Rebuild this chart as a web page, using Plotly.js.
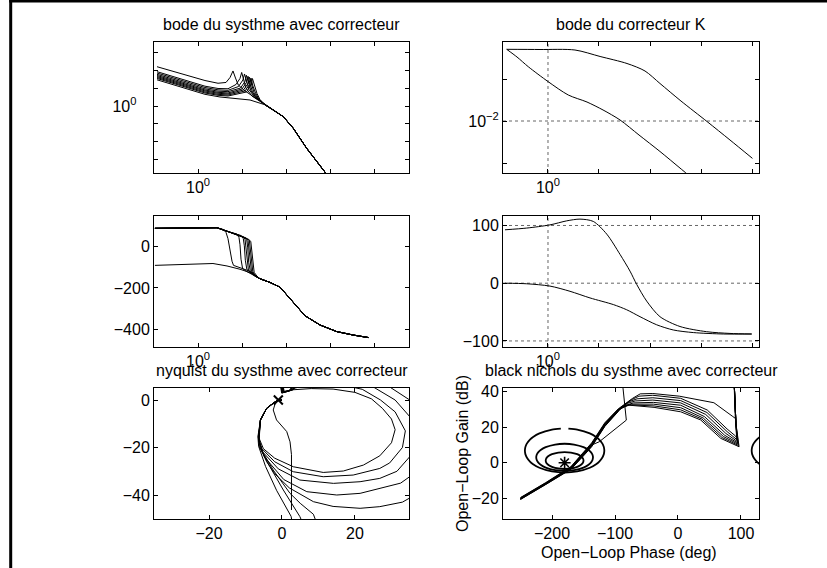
<!DOCTYPE html>
<html><head><meta charset="utf-8">
<script src="https://cdn.plot.ly/plotly-3.0.1.min.js"></script>
<style>html,body{margin:0;padding:0;background:#fff;}#chart{width:827px;height:568px;}</style>
</head><body><div id="chart"></div>
<script>
// ---------- bode du systhme avec correcteur : magnitude (dB) ----------
const sysMagFreq = [
 [0.117,0.507,1.44,2.85,4.33,5.34,6.24,7.11,8.24,11.7,19.7,33.3],
 [0.117,0.507,1.44,2.85,4.80,7.30,9.00,9.83,10.9,12.3,16.8,33.3],
 [0.117,0.507,1.44,2.85,4.80,8.32,10.5,11.4,12.6,14.4,19.2,33.3],
 [0.117,0.507,1.44,2.85,4.80,9.24,11.7,12.6,14.1,16.0,20.8,33.3],
 [0.117,0.507,1.44,2.85,4.80,10.0,12.6,13.7,15.2,17.3,21.9,33.3],
 [0.117,0.507,1.44,2.85,4.80,10.8,13.7,14.8,16.4,18.7,23.1,33.3],
 [0.117,0.507,1.44,2.85,4.80,11.7,14.8,16.0,17.7,20.3,24.3,33.3],
 [0.117,0.507,1.44,2.85,4.80,12.6,16.0,17.3,19.2,21.9,25.6,33.3],
 [0.117,0.507,1.44,3.16,6.93,15.2,33.3]
];
const sysMagDb = [
 [44.4,35.4,28.8,25.7,26.6,32.2,39.6,31.6,23.7,17.0,9.6,1.4],
 [38.8,29.2,22.4,19.8,19.5,24.3,31.1,37.9,29.4,20.3,11.3,1.4],
 [37.3,27.7,20.9,18.3,17.7,22.0,29.4,36.2,27.7,18.6,10.2,1.4],
 [35.8,26.2,19.4,16.8,16.2,20.3,27.7,34.7,26.0,17.0,9.6,1.4],
 [34.5,24.9,18.1,15.5,14.7,19.2,26.6,33.6,24.9,15.8,9.0,1.4],
 [33.3,23.7,17.0,14.4,13.6,18.1,25.4,32.5,23.7,15.3,8.5,1.4],
 [32.2,22.6,15.8,13.2,12.4,17.0,24.3,31.6,22.6,14.7,7.9,1.4],
 [31.1,21.5,14.7,12.1,11.3,15.8,23.7,31.0,22.0,14.1,7.3,1.4],
 [29.6,19.8,13.2,10.2,8.5,6.8,1.4]
];
const sysMagTailFreq = [51.4,86.9,146.5,295,705,7420];
const sysMagTailDb = [-4.5,-12.1,-25.2,-47.8,-72.3,-138];

// ---------- bode du systhme avec correcteur : phase (deg) ----------
const sysPhaseFreq = [
 [0.105,0.658,2.70,3.70,4.33,4.80,5.34,5.93,6.41,9.84,15.2,20.8,25.6],
 [0.105,0.658,2.70,4.56,7.70,8.55,9.01,9.49,10.3,12.3,17.8,25.6],
 [0.105,0.658,2.70,4.56,9.49,10.7,11.3,11.9,12.9,15.2,18.7,25.6],
 [0.105,0.658,2.70,4.56,10.5,11.7,12.3,13.0,14.0,16.0,19.2,25.6],
 [0.105,0.658,2.70,4.56,11.5,12.8,13.5,14.2,15.4,17.3,19.7,25.6],
 [0.105,0.658,2.70,4.56,12.3,13.7,14.4,15.2,16.4,18.2,20.8,25.6],
 [0.105,0.658,2.70,4.56,13.2,14.7,15.4,16.3,17.6,19.2,21.9,25.6],
 [0.105,0.658,2.70,4.56,14.2,15.8,16.6,17.5,18.9,20.8,23.1,25.6],
 [0.105,0.769,2.19,4.56,9.01,17.8,25.6]
];
const sysPhaseDeg = [
 [90,92,93,85,70,40,-20,-70,-90,-106,-119,-145,-155],
 [90,92,93,76,62,45,10,-60,-105,-118,-137,-155],
 [90,92,93,76,55,40,5,-65,-110,-122,-139,-155],
 [90,92,93,76,50,38,0,-70,-113,-125,-140,-155],
 [90,92,93,76,46,35,-5,-75,-116,-128,-141,-155],
 [90,92,93,76,43,32,-10,-80,-118,-130,-143,-155],
 [90,92,93,76,40,30,-12,-85,-121,-133,-146,-155],
 [90,92,93,76,36,27,-15,-90,-124,-136,-149,-155],
 [-90,-85,-81,-93,-109,-130,-155]
];
const sysPhaseTailFreq = [43.3,73.1,146.6,270,593,1420,3390,7420];
const sysPhaseTailDeg = [-173,-196,-270,-335,-380,-412,-429,-441];

// ---------- bode du correcteur K ----------
const kMagFreqA = [0.155,0.697,3.38,10.5,35.4,79.8,157,405,1310,3700,10200];
const kMagA = [0.509,0.504,0.490,0.344,0.234,0.155,0.0782,0.0299,0.00973,0.00353,0.00129];
const kMagFreqB = [0.155,0.247,0.411,1.01,2.50,5.82,12.0,25.8,60.9,157,419,10200];
const kMagB = [0.509,0.334,0.196,0.0863,0.0416,0.0283,0.0183,0.0106,0.00464,0.00188,0.0007,0.0000283];
const kPhaseFreqA = [0.1435,0.382,1.094,2.33,4.24,7.73,14.2,25.8,40.5,54.8,86.1,157,387,1290,3700,9860];
const kPhaseA = [92.5,95.5,101,108,111,107,85,50,21,-2,-31,-58,-75,-84,-87,-88];
const kPhaseFreqB = [0.1435,0.382,1.094,2.70,6.66,19.1,34.9,63.7,135,286,706,2740,9860];
const kPhaseB = [0,-1,-5,-14,-25.5,-37,-46,-58,-72,-81,-85.5,-88,-88];

// ---------- nyquist du systhme avec correcteur ----------
const nyqRe = [
 [-0.5,-0.4,-0.1,1.8,5,30,80,50,5,2.5,-1.5,-4.5,-6.4,-6.6],
 [-0.4,-0.3,0.0,2.0,5,30,70,40,8,4.9,0.37,-3.3,-6.2,-6.5],
 [-0.3,-0.2,0.1,2.2,5.5,32,65,40,11,8.6,5,2.2,-2.4,-5.6,-6.4],
 [-0.2,-0.1,0.2,2.4,5,12,22,32,40,46,46,41,33,26.8,21.4,14,8.6,2,-2,-4.2,-6.0,-6.4],
 [-0.1,0,0.3,2.6,4.5,11,20,28,35,40,41,38,32.5,26.8,21.4,15,6.8,0.5,-4.8,-6.3],
 [0,0.1,0.4,2.8,4,10,18,25,31,35,37,35.5,31.5,26.8,21.4,14.1,4.9,-1,-5.2,-6.4],
 [0.1,0.2,0.5,3.0,3.5,9,16,22,27,31,33.8,33,29.5,26.8,19.5,11.3,3.1,-2,-5.5,-6.4],
 [0.2,0.3,0.6,3,8,14,20,24.5,27.5,30,31,30,26.8,22.3,16.8,11.3,3.1,-2,-5.1,-6.3]
];
const nyqIm = [
 [40,6,2.9,3.7,10,35,0,-80,-70,-49,-38,-28,-19.5,-15.4],
 [40,6,3.0,3.8,9,30,0,-70,-60,-49.1,-37.9,-28.1,-19.7,-15.4],
 [40,6,3.1,3.9,9,28,-5,-65,-58,-48.1,-43.5,-39.3,-29.5,-21.1,-15.4],
 [40,6,3.2,4.0,7.5,13,14,9,0,-12,-25,-36,-43,-44.9,-45.6,-44.8,-42.8,-37,-31,-26,-20,-15.4],
 [40,6,3.3,4.1,6.5,10.5,11,7,0,-10,-20,-29,-35,-37.2,-39.3,-40,-38.6,-33.5,-24,-17.5],
 [40,6,3.4,4.2,5.8,8.5,8.5,5.5,0,-7,-15,-23,-30,-33,-34.4,-35.1,-33.7,-29,-22,-17],
 [40,6,3.5,4.3,5,7,6.5,4.5,0,-5,-13,-20,-26.5,-28.8,-31.6,-32.3,-30.2,-26,-20.5,-16.5],
 [40,6,3.6,4.3,4.8,4.6,3.2,0.5,-3.5,-8,-12.5,-18,-23.5,-27.4,-29.9,-30.5,-28.1,-24.5,-20.5,-16]
];
const nyqEndRe = [-5.9,-4.2,-2.3,-1.0,-0.4,0];
const nyqEndIm = [-8.4,-3.5,-1.2,0,-0.1,0];
const nyqLowRe = [2.6,2.6,2.2,1.3,-1.5,-2.4,-1.8,-0.9,0];
const nyqLowIm = [-46.3,-23,-17.6,-13.3,-8.4,-4.2,-1.2,-0.3,0];
const critRe = [-1], critIm = [0];

// ---------- black nichols du systhme avec correcteur ----------
const nicPhase = [
 [88,89,90,91,86,57,2,-40,-60,-72],
 [88,90,92,93,91.5,78,46.5,4.3,-40,-62,-74],
 [88,90,92,93.5,78,46,4.3,-40,-65,-77],
 [88,90,92,94,76,44,4.3,-40,-68,-80],
 [88,90,92,94.5,74,42,4.3,-39,-71,-84],
 [88,90,92,95,72,40,4.3,-39,-74,-88],
 [88,90,92,96,70,38,4.3,-38,-77,-91],
 [88,90,92,97,68,36,4.3,-38,-80.5,-93]
];
const nicGain = [
 [55,40,30,25,26.3,33.8,37.5,39,38.8,36.3],
 [55,35,22,14,15,19,29.7,36.3,38,37.5,35.5],
 [55,35,22,13,17.5,28.3,35,36.6,36,34.5],
 [55,35,22,12,16.5,27.2,33.7,35.3,34.8,33.5],
 [55,35,22,11.2,15.5,26,32.4,34,33.7,32.2],
 [55,35,22,10.5,14.8,25.2,31,33,33,31.3],
 [55,35,22,9.7,14.2,24.6,29.8,32,32.6,30.5],
 [55,35,22,9,13.7,24.1,28.7,31.2,32.5,30]
];
const nicTailPhase = [-95,-116,-137,-155,-170,-210,-250];
const nicTailGain = [
 [30.3,22.6,11.2,4.0,-2.2,-11.2,-19.6],
 [30.0,22.2,10.8,3.7,-2.5,-11.4,-19.8],
 [29.8,21.9,10.5,3.4,-2.7,-11.6,-20.0],
 [29.6,21.6,10.2,3.1,-2.9,-11.7,-20.1],
 [29.4,21.3,9.9,2.8,-3.1,-11.9,-20.3],
 [29.2,21.0,9.6,2.5,-3.3,-12.0,-20.4],
 [29.0,20.8,9.3,2.2,-3.5,-12.2,-20.6],
 [28.8,20.5,9.0,1.9,-3.7,-12.3,-20.7]
];
const nicLowPhase = [-88,-87.3,-82,-114.8,-125,-137,-155,-170,-210,-250];
const nicLowGain = [55,42,24,14.6,11.8,10,3,-3,-11.8,-20.2];
// closed-loop contours 1 dB, 3 dB, 6 dB (phase deg, gain dB)
const m1Phase = [-174,-160,-140,-130,-125,-120,-118,-117.5,-116.96,-117.5,-118,-120,-125,-130,-140,-160,-180,-200,-220,-230,-235,-240,-242,-242.5,-243.04,-242.5,-242,-240,-235,-230,-220,-200,-186];
const m1Gain = [19.22,18.66,16.56,14.55,13.06,10.77,9.17,8.53,6.87,5.21,4.57,2.97,0.68,-0.82,-2.82,-4.92,-5.54,-4.92,-2.82,-0.82,0.68,2.97,4.57,5.21,6.87,8.53,9.17,10.77,13.06,14.55,16.56,18.66,19.22];
const m1bPhase = [160,140,130,125,120,118,117.5,116.96,117.5,118,120,125,130,140,160];
const m1bGain = [18.66,16.56,14.55,13.06,10.77,9.17,8.53,6.87,5.21,4.57,2.97,0.68,-0.82,-2.82,-4.92];
const m3Phase = [-180,-165,-150,-142,-138,-136,-135.5,-134.93,-135.5,-136,-138,-142,-150,-165,-180,-195,-210,-218,-222,-224,-224.5,-225.07,-224.5,-224,-222,-218,-210,-195,-180];
const m3Gain = [10.69,10.26,8.76,7.16,5.82,4.69,4.24,3.02,1.80,1.36,0.22,-1.12,-2.72,-4.22,-4.65,-4.22,-2.72,-1.12,0.22,1.36,1.80,3.02,4.24,4.69,5.82,7.16,8.76,10.26,10.69];
const m6Phase = [-180,-170,-160,-155,-152,-150.5,-150,-150.5,-152,-155,-160,-170,-180,-190,-200,-205,-208,-209.5,-210,-209.5,-208,-205,-200,-190,-180];
const m6Gain = [6.02,5.75,4.81,3.89,2.97,2.12,1.25,0.38,-0.47,-1.39,-2.31,-3.25,-3.52,-3.25,-2.31,-1.39,-0.47,0.38,1.25,2.12,2.97,3.89,4.81,5.75,6.02];
const critPhase = [-180], critGain = [0];

// ---------- ticks & texts ----------
const NB = '\u00a0';
const sysFreqTicks = [0.1,1,10,100,1000,10000];
const sysFreqTickText = ['','10<sup>0</sup>','','','',''];
const sysMagTicks = [0.001,0.01,0.1,1,10,100,1000];
const sysMagTickText = ['','','','10<sup>0</sup>' + NB+NB+NB,'','',''];
const kFreqTicks = [1,10,100,1000,10000];
const kFreqTickText = ['10<sup>0</sup>','','','',''];
const kMagTicks = [0.001,0.01,0.1];
const kMagTickText = ['','10<sup>\u22122</sup>',''];
const kFreqGrid = [1];
const kMagGrid = [0.01];
const kPhaseGrid = [-100,0,100];
const titles = ['bode du systhme avec correcteur','bode du correcteur K','nyquist du systhme avec correcteur','black nichols du systhme avec correcteur'];

// ---------- build ----------
const W = 827, H = 568;
const FONT = '"Liberation Sans", Arial, Helvetica, sans-serif';
const dbToAbs = d => Math.pow(10, d/20);
const line = {color:'#000', width:1};
const smooth = {color:'#000', width:1, shape:'spline', smoothing:0.8};
const traces = [];
function addLine(x, y, xa, ya, extra) {
  traces.push(Object.assign({type:'scatter', mode:'lines', x:x, y:y, xaxis:xa, yaxis:ya,
    line:line, hoverinfo:'skip', showlegend:false}, extra||{}));
}
sysMagFreq.forEach((f,i) => addLine(f.concat(sysMagTailFreq), sysMagDb[i].concat(sysMagTailDb).map(dbToAbs), 'x', 'y'));
addLine(kMagFreqA, kMagA, 'x2', 'y2', {line:smooth});
addLine(kMagFreqB, kMagB, 'x2', 'y2', {line:smooth});
sysPhaseFreq.forEach((f,i) => addLine(f.concat(sysPhaseTailFreq), sysPhaseDeg[i].concat(sysPhaseTailDeg), 'x3', 'y3'));
addLine(kPhaseFreqA, kPhaseA, 'x4', 'y4', {line:smooth});
addLine(kPhaseFreqB, kPhaseB, 'x4', 'y4', {line:smooth});
nyqRe.forEach((r,i) => addLine(r.concat(nyqEndRe), nyqIm[i].concat(nyqEndIm), 'x5', 'y5'));
addLine(nyqLowRe, nyqLowIm, 'x5', 'y5');
traces.push({type:'scatter', mode:'markers', x:critRe, y:critIm, xaxis:'x5', yaxis:'y5', hoverinfo:'skip', showlegend:false,
  marker:{symbol:'x-thin-open', size:9, color:'#000', line:{color:'#000', width:2}}});
const gridLine = {color:'#000', width:1.8, shape:'spline', smoothing:0.6};
addLine(m1Phase, m1Gain, 'x6', 'y6', {line:gridLine});
addLine(m1bPhase, m1bGain, 'x6', 'y6', {line:gridLine});
addLine(m3Phase, m3Gain, 'x6', 'y6', {line:gridLine});
addLine(m6Phase, m6Gain, 'x6', 'y6', {line:gridLine});
nicPhase.forEach((p,i) => addLine(p.concat(nicTailPhase), nicGain[i].concat(nicTailGain[i]), 'x6', 'y6'));
addLine(nicLowPhase, nicLowGain, 'x6', 'y6');
traces.push({type:'scatter', mode:'markers', x:critPhase, y:critGain, xaxis:'x6', yaxis:'y6', hoverinfo:'skip', showlegend:false,
  marker:{symbol:'asterisk-open', size:10, color:'#000', line:{color:'#000', width:1.6}}});

const colL = [154/W, 409/W], colR = [503/W, 759/W];
const row = (top, bot) => [1 - bot/H, 1 - top/H];
const r1 = row(42,173), r2 = row(216,347), r3 = row(388,519);
const tickfont = {family:FONT, size:16, color:'#000'};
function ax(domain, anchor, opts) {
  return Object.assign({domain:domain, anchor:anchor, showline:true, linecolor:'#000', linewidth:1,
    mirror:'ticks', ticks:'inside', ticklen:4, tickcolor:'#000', tickwidth:1, showgrid:false,
    zeroline:false, tickfont:tickfont, fixedrange:true, tickmode:'array'}, opts);
}
const layout = {
  width:W, height:H, margin:{l:0,r:0,t:0,b:0,pad:0}, paper_bgcolor:'#fff', plot_bgcolor:'#fff',
  showlegend:false, font:{family:FONT, size:16, color:'#000'},
  xaxis:  ax(colL,'y',  {type:'log', range:[-1.0,4.795], tickvals:sysFreqTicks, ticktext:sysFreqTickText}),
  yaxis:  ax(r1,'x',    {type:'log', range:[-3.785,3.616], tickvals:sysMagTicks, ticktext:sysMagTickText}),
  xaxis2: ax(colR,'y2', {type:'log', range:[-0.882,4.137], tickvals:kFreqTicks, ticktext:kFreqTickText}),
  yaxis2: ax(r1,'x2',   {type:'log', range:[-3.238,-0.119], tickvals:kMagTicks, ticktext:kMagTickText}),
  xaxis3: ax(colL,'y3', {type:'log', range:[-1.0,4.795], tickvals:sysFreqTicks, ticktext:sysFreqTickText}),
  yaxis3: ax(r2,'x3',   {range:[-487,150], tickvals:[-400,-200,0]}),
  xaxis4: ax(colR,'y4', {type:'log', range:[-0.882,4.137], tickvals:kFreqTicks, ticktext:kFreqTickText}),
  yaxis4: ax(r2,'x4',   {range:[-110.5,116.4], tickvals:[-100,0,100]}),
  xaxis5: ax(colL,'y5', {range:[-35.07,34.8], tickvals:[-20,0,20]}),
  yaxis5: ax(r3,'x5',   {range:[-50.1,5.05], tickvals:[-40,-20,0]}),
  xaxis6: ax(colR,'y6', {range:[-277.8,128.6], tickvals:[-200,-100,0,100]}),
  yaxis6: ax(r3,'x6',   {range:[-31.7,42.1], tickvals:[-20,0,20,40]}),
  shapes: [],
  annotations: []
};
const dot = {color:'#666', width:1, dash:'dot'};
kFreqGrid.forEach(v => {
  layout.shapes.push({type:'line', xref:'x2', yref:'y2 domain', x0:v, x1:v, y0:0, y1:1, line:dot, layer:'below'});
  layout.shapes.push({type:'line', xref:'x4', yref:'y4 domain', x0:v, x1:v, y0:0, y1:1, line:dot, layer:'below'});
});
kMagGrid.forEach(v => layout.shapes.push({type:'line', xref:'x2 domain', yref:'y2', x0:0, x1:1, y0:v, y1:v, line:dot, layer:'below'}));
kPhaseGrid.forEach(v => layout.shapes.push({type:'line', xref:'x4 domain', yref:'y4', x0:0, x1:1, y0:v, y1:v, line:dot, layer:'below'}));
// page frame
layout.shapes.push({type:'line', xref:'paper', yref:'paper', x0:10.7/W, x1:10.7/W, y0:0, y1:1, line:{color:'#000', width:3}});
layout.shapes.push({type:'line', xref:'paper', yref:'paper', x0:9.2/W, x1:1, y0:1-1/H, y1:1-1/H, line:{color:'#000', width:3}});

const ann = (text, xpx, ypx, extra) => layout.annotations.push(Object.assign({text:text, xref:'paper', yref:'paper',
  x:xpx/W, y:1-ypx/H, xanchor:'center', yanchor:'middle', showarrow:false, font:{family:FONT, size:16, color:'#000'}}, extra||{}));
ann(titles[0], 281.5, 24.5);
ann(titles[1], 631, 24.5);
ann(titles[2], 281.5, 370.5);
ann(titles[3], 631, 370.5);
ann('Open\u2212Loop Phase (deg)', 629, 552);
ann('Open\u2212Loop Gain (dB)', 462, 454, {textangle:-90});

Plotly.newPlot('chart', traces, layout, {staticPlot:true, displayModeBar:false});
</script></body></html>
